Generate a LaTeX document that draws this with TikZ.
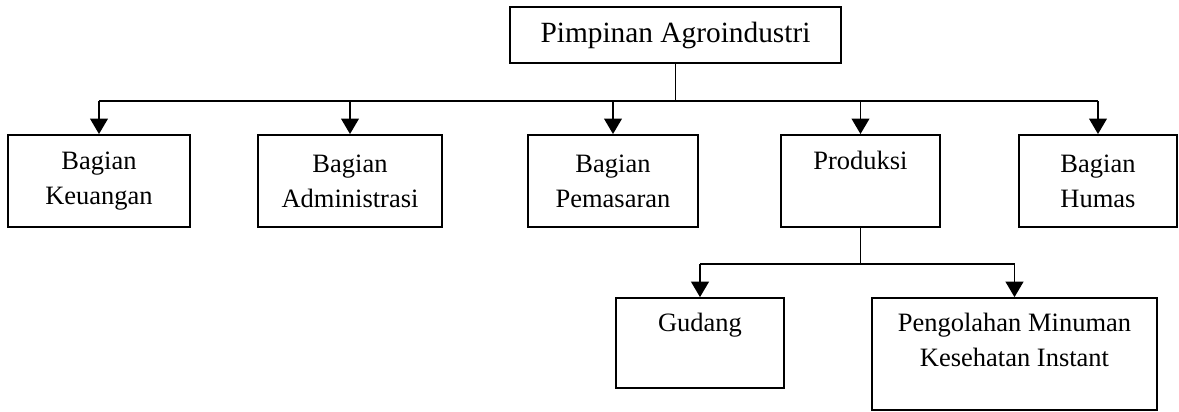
\documentclass[tikz,border=0pt]{standalone}
\usepackage{fontspec}
\setmainfont{Liberation Serif}
\usetikzlibrary{arrows.meta}
\begin{document}
\begin{tikzpicture}[x=0.453pt, y=-0.453pt, line width=0.85pt,
  unit/.style={draw, fill=white, align=center, inner sep=2pt, minimum height=1.465cm, font=\fontsize{12}{15.9}\selectfont},
  arr/.style={-{Triangle[width=8pt,length=7pt]}}]
\useasboundingbox[fill=white] (0,0) rectangle (1179,412);
\node[unit, minimum width=5.27cm, minimum height=0.89cm, font=\fontsize{13.3}{16}\selectfont] (pimpinan) at (675.5,35){Pimpinan Agroindustri};
\node[unit, minimum width=2.90cm] (keuangan) at (99,181){Bagian\\Keuangan};
\node[unit, minimum width=2.93cm] (admin) at (350,181){Bagian\\Administrasi};
\node[unit, minimum width=2.71cm] (pemasaran) at (613,181){Bagian\\Pemasaran};
\node[unit, minimum width=2.53cm] (produksi) at (860.5,181){Produksi\\\phantom{Bg}};
\node[unit, minimum width=2.52cm] (humas) at (1098,181){Bagian\\Humas};
\node[unit, minimum width=2.67cm, minimum height=1.43cm] (gudang) at (700,343){Gudang\\\phantom{Bg}};
\node[unit, minimum width=4.54cm, minimum height=1.78cm] (pengolahan) at (1014.5,354){Pengolahan Minuman\\Kesehatan Instant\\[-5.7pt]\phantom{Bg}};
\coordinate (bus1) at (675.5,101);
\coordinate (bus2) at (860.5,264);
\draw[](pimpinan) -- (bus1);
\draw[](keuangan.north |- bus1) -- (humas.north |- bus1);
\foreach \n in {keuangan,admin,pemasaran,produksi,humas}
  \draw[arr](\n.north |- bus1) -- (\n.north);
\draw[](produksi) -- (bus2);
\draw[](gudang.north |- bus2) -- (pengolahan.north |- bus2);
\draw[arr](gudang.north |- bus2) -- (gudang.north);
\draw[arr](pengolahan.north |- bus2) -- (pengolahan.north);
\end{tikzpicture}
\end{document}
